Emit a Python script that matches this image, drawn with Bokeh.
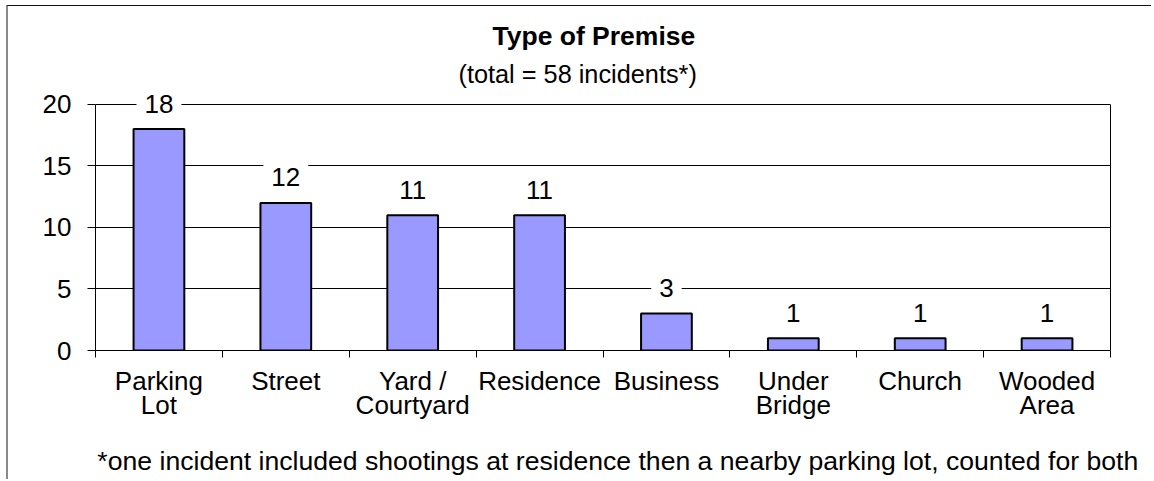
from bokeh.plotting import figure
from bokeh.models import FixedTicker, Label, Title, Range1d, LinearAxis
from bokeh.embed import file_html
from bokeh.resources import INLINE

# ---- data ----
categories = ["Parking\nLot", "Street", "Yard /\nCourtyard", "Residence",
              "Business", "Under\nBridge", "Church", "Wooded\nArea"]
values = [18, 12, 11, 11, 3, 1, 1, 1]
y_ticks = [0, 5, 10, 15, 20]
title_text = "Type of Premise"
subtitle_text = "(total = 58 incidents*)"
footnote_text = "*one incident included shootings at residence then a nearby parking lot, counted for both"

FONT = "Liberation Sans"
n = len(categories)
centers = [i + 0.5 for i in range(n)]
bounds = list(range(n + 1))

p = figure(width=1145, height=474, x_range=Range1d(0, n), y_range=Range1d(0, 20.81),
           output_backend="svg", toolbar_location=None, title=None,
           min_border_left=87, min_border_top=88, min_border_right=43,
           min_border_bottom=130,
           styles={"border-left": "2px solid #8a8a8a",
                   "border-top": "1px solid #111111",
                   "margin-left": "6px", "margin-top": "5px"})
p.outline_line_color = None
p.background_fill_color = "white"
p.border_fill_color = "white"

# grid
p.xgrid.visible = False
p.ygrid.ticker = FixedTicker(ticks=y_ticks)
p.ygrid.grid_line_color = "black"
p.ygrid.grid_line_width = 1

# bars
p.vbar(x=centers, top=values, width=0.4, bottom=0,
       fill_color="#9999FF", line_color="black", line_width=2)

# x axis
xa = p.xaxis[0]
xa.ticker = FixedTicker(ticks=centers, minor_ticks=bounds)
xa.major_label_overrides = {c: lab for c, lab in zip(centers, categories)}
xa.major_tick_out = 0
xa.major_tick_in = 0
xa.minor_tick_out = 7
xa.minor_tick_in = 0
xa.minor_tick_line_color = "black"
xa.axis_line_color = "black"
xa.major_label_text_font = FONT
xa.major_label_text_font_size = "26px"
xa.major_label_text_color = "black"
xa.major_label_text_line_height = 0.82
xa.major_label_standoff = 8

# footnote as the x axis label (centred; leading no-break spaces nudge it right)
xa.axis_label = "\u00a0" * 4 + footnote_text
xa.axis_label_standoff = 23
xa.axis_label_text_font = FONT
xa.axis_label_text_font_size = "26.6px"
xa.axis_label_text_font_style = "normal"
xa.axis_label_text_color = "black"

# y axis
ya = p.yaxis[0]
ya.ticker = FixedTicker(ticks=y_ticks)
ya.bounds = (0, 20)
ya.major_tick_out = 8
ya.major_tick_in = 0
ya.minor_tick_out = 0
ya.minor_tick_in = 0
ya.axis_line_color = "black"
ya.major_tick_line_color = "black"
ya.major_label_text_font = FONT
ya.major_label_text_font_size = "26px"
ya.major_label_text_color = "black"
ya.major_label_standoff = 16

# right edge of plot area
ra = LinearAxis(ticker=FixedTicker(ticks=[]), bounds=(0, 20),
                axis_line_color="black", major_tick_line_color=None,
                minor_tick_line_color=None, major_label_text_color=None,
                major_label_text_font_size="1px", major_label_standoff=0)
p.add_layout(ra, "right")

# value labels
for c, v in zip(centers, values):
    p.add_layout(Label(x=c, y=v, y_offset=25.5, text=str(v), text_align="center",
                       text_baseline="alphabetic", text_font=FONT,
                       text_font_size="26px", text_color="black",
                       background_fill_color="white", padding=8))

# titles (first added sits closest to the plot area)
p.add_layout(Title(text=subtitle_text, align="left", offset=363, standoff=14,
                   text_font=FONT, text_font_size="25.3px", text_font_style="normal",
                   text_color="black"), "above")
p.add_layout(Title(text=title_text, align="left", offset=397, standoff=0,
                   text_font=FONT, text_font_size="26.5px", text_font_style="bold",
                   text_color="black"), "above")

open("out.html", "w").write(file_html(p, INLINE))
